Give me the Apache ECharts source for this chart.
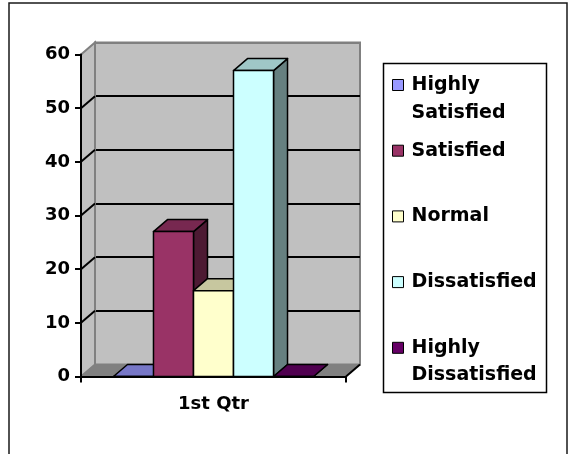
<!DOCTYPE html>
<html>
<head>
<meta charset="utf-8">
<script src="https://cdn.jsdelivr.net/npm/echarts@6/dist/echarts.min.js"></script>
<style>
  html, body { margin: 0; padding: 0; background: #fff; }
  #chart { width: 570px; height: 454px; }
</style>
</head>
<body>
<div id="chart"></div>
<script>
// ---- data ----
const categories = ['1st Qtr'];
const seriesNames = ['Highly Satisfied', 'Satisfied', 'Normal', 'Dissatisfied', 'Highly Dissatisfied'];
const seriesValues = [0, 27, 16, 57, 0];
const seriesColors = ['#9999FF', '#993366', '#FFFFCC', '#CCFFFF', '#660066'];
// leading blank line keeps the swatch level with the first text line
const legendLabels = ['\nHighly\nSatisfied', '\nSatisfied\n', '\nNormal\n', '\nDissatisfied\n', '\nHighly\nDissatisfied'];
const yTicks = [0, 10, 20, 30, 40, 50, 60];

// ---- look ----
const FONT = 'DejaVu Sans';
const FS = 18;
const DX = 14, DY = -12;      // depth offset of the pseudo-3D projection
const GROUP = 0.755;          // share of the category band the bars fill
const LH = 27.7;              // legend line height
const PITCH = 65.7;           // legend item spacing

function shade(hex, k) {
  const n = parseInt(hex.slice(1), 16);
  const r = Math.round(((n >> 16) & 255) * k);
  const g = Math.round(((n >> 8) & 255) * k);
  const b = Math.round((n & 255) * k);
  return 'rgb(' + r + ',' + g + ',' + b + ')';
}

const yMin = yTicks[0], yMax = yTicks[yTicks.length - 1], yStep = yTicks[1] - yTicks[0];

// side wall, floor and the slanted grid lines on the side wall
function renderWalls(params, api) {
  const band = api.size([1, 0])[0];
  const o = api.coord([0, yMin]);
  const xL = o[0] - band / 2, xR = o[0] + band / 2, y0 = o[1];
  const yT = api.coord([0, yMax])[1];
  const children = [];
  children.push({
    type: 'polygon',
    shape: { points: [[xL, yT], [xL + DX, yT + DY], [xL + DX, y0 + DY], [xL, y0]] },
    style: { fill: '#c0c0c0', stroke: '#808080', lineWidth: 2 }
  });
  yTicks.forEach(function (v, i) {
    if (i === 0 || i === yTicks.length - 1) return;
    const y = api.coord([0, v])[1];
    children.push({
      type: 'line',
      shape: { x1: xL, y1: y, x2: xL + DX, y2: y + DY },
      style: { stroke: '#000', lineWidth: 2 }
    });
  });
  children.push({
    type: 'polygon',
    shape: { points: [[xL, y0], [xR, y0], [xR + DX, y0 + DY], [xL + DX, y0 + DY]] },
    style: { fill: '#808080', stroke: '#808080', lineWidth: 1 }
  });
  children.push({
    type: 'line',
    shape: { x1: xR, y1: y0, x2: xR + DX, y2: y0 + DY },
    style: { stroke: '#000', lineWidth: 2 }
  });
  return { type: 'group', children: children };
}

// one pseudo-3D box per series
function makeBarRenderer(i) {
  return function (params, api) {
    const band = api.size([1, 0])[0];
    const groupW = band * GROUP;
    const w = groupW / seriesNames.length;
    const cat = api.value(0);
    const base = api.coord([cat, 0]);
    const top = api.coord([cat, api.value(1)]);
    const x0 = base[0] - groupW / 2 + w * i, x1 = x0 + w;
    const yb = base[1], yt = top[1];
    const c = seriesColors[i];
    const edge = { stroke: '#000', lineWidth: 1.5, lineJoin: 'round' };
    return {
      type: 'group',
      children: [
        { type: 'polygon', shape: { points: [[x1, yt], [x1 + DX, yt + DY], [x1 + DX, yb + DY], [x1, yb]] },
          style: Object.assign({ fill: shade(c, 0.5) }, edge) },
        { type: 'polygon', shape: { points: [[x0, yt], [x1, yt], [x1 + DX, yt + DY], [x0 + DX, yt + DY]] },
          style: Object.assign({ fill: shade(c, 0.78) }, edge) },
        { type: 'rect', shape: { x: x0, y: yt, width: w, height: yb - yt },
          style: Object.assign({ fill: c }, edge) }
      ]
    };
  };
}

const labelStyle = { fontFamily: FONT, fontWeight: 'bold', fontSize: FS, color: '#000' };

const series = [{
  type: 'custom', name: 'walls', xAxisIndex: 0, yAxisIndex: 0, z: 1, silent: true,
  data: [[0, 0]], renderItem: renderWalls
}].concat(seriesNames.map(function (name, i) {
  return {
    type: 'custom', name: name, xAxisIndex: 0, yAxisIndex: 0, z: 2,
    itemStyle: { color: seriesColors[i] },
    data: [[categories[0], seriesValues[i]]],
    renderItem: makeBarRenderer(i)
  };
}));

const chart = echarts.init(document.getElementById('chart'), null, { renderer: 'canvas' });
chart.setOption({
  animation: false,
  grid: [
    { left: 81, top: 54.5, width: 265, height: 322 },
    { left: 95, top: 42.5, width: 265, height: 322, show: true,
      backgroundColor: '#c0c0c0', borderColor: '#808080', borderWidth: 2 }
  ],
  xAxis: [
    { gridIndex: 0, type: 'category', data: categories, z: 5,
      axisLine: { lineStyle: { color: '#000', width: 2 } },
      axisTick: { show: true, length: 6, lineStyle: { color: '#000', width: 2 } },
      axisLabel: Object.assign({ margin: 19 }, labelStyle) },
    { gridIndex: 1, type: 'category', data: categories, show: false }
  ],
  yAxis: [
    { gridIndex: 0, type: 'value', min: yMin, max: yMax, interval: yStep, z: 5,
      axisLine: { show: true, lineStyle: { color: '#000', width: 2 } },
      axisTick: { show: true, length: 6, lineStyle: { color: '#000', width: 2 } },
      axisLabel: Object.assign({ margin: 11 }, labelStyle),
      splitLine: { show: false } },
    { gridIndex: 1, type: 'value', min: yMin, max: yMax, interval: yStep,
      axisLine: { show: false }, axisTick: { show: false }, axisLabel: { show: false },
      splitLine: { show: true, lineStyle: {
        width: 2,
        color: yTicks.map(function (v, i) { return (i === 0 || i === yTicks.length - 1) ? '#808080' : '#000'; })
      } } }
  ],
  legend: {
    orient: 'vertical', left: 392, top: 85 - 1.5 * LH, padding: 0,
    itemGap: PITCH - 3 * LH, itemWidth: 11, itemHeight: 11, icon: 'rect',
    selectedMode: false,
    itemStyle: { borderColor: '#000', borderWidth: 1 },
    textStyle: Object.assign({ lineHeight: LH, padding: [0, 0, 0, 3] }, labelStyle, { fontSize: 19 }),
    formatter: function (name) { return legendLabels[seriesNames.indexOf(name)]; },
    data: seriesNames
  },
  graphic: [
    { type: 'rect', z: 0, shape: { x: 9, y: 3, width: 558, height: 480 },
      style: { fill: 'none', stroke: '#1a1a1a', lineWidth: 1.5 } },
    { type: 'rect', z: 0, shape: { x: 383.5, y: 63.5, width: 163, height: 329 },
      style: { fill: '#fff', stroke: '#000', lineWidth: 1.5 } }
  ],
  series: series
});
</script>
</body>
</html>
